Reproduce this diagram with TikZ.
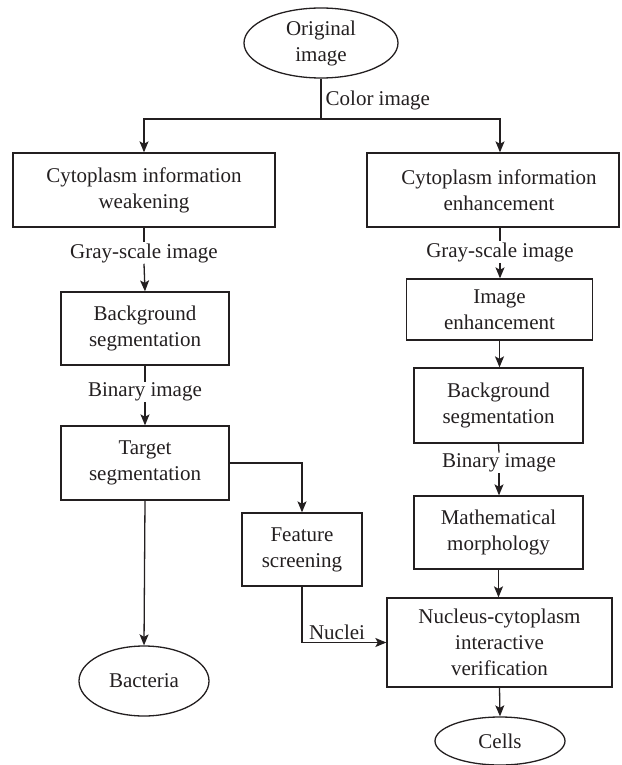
\documentclass[tikz,border=0pt]{standalone}
\usepackage{fontspec}
\setmainfont{Liberation Serif}
\usetikzlibrary{shapes.geometric,arrows.meta}
\definecolor{ink}{HTML}{231F20}
\begin{document}
\begin{tikzpicture}[x=1pt,y=-1pt,
  every node/.style={font=\rmfamily\fontsize{21}{26}\selectfont, text=ink},
  box/.style={draw=ink, line width=1.3pt, rectangle, align=center, inner sep=0pt},
  oval/.style={draw=ink, line width=1.3pt, ellipse, align=center, inner sep=0pt},
  lab/.style={inner sep=1pt, align=center},
  conn/.style={draw=ink, line width=1.3pt},
  arr/.style={conn, -{Stealth[length=11pt,width=9pt,inset=2.5pt]}}]
\useasboundingbox (0,0) rectangle (621,765);
% nodes
\node[oval, minimum width=154pt, minimum height=70pt] (orig) at (321,43) {Original\\image};
\node[box, minimum width=262pt, minimum height=74pt] (cw) at (144,190) {Cytoplasm information\\weakening};
\node[box, minimum width=252pt, minimum height=74pt] (ce) at (493,190) {\hspace*{12pt}Cytoplasm information\\\hspace*{12pt}enhancement};
\node[lab] (gs1) at (144,253) {Gray-scale image};
\node[lab] (gs2) at (500,252) {Gray-scale image};
\node[box, minimum width=168pt, minimum height=73pt] (bs1) at (145,328.5) {Background\\segmentation};
\node[lab] (bi1) at (145,392) {Binary image};
\node[box, minimum width=168pt, minimum height=74pt] (ts) at (145,463) {Target\\segmentation};
\node[box, minimum width=120pt, minimum height=73pt] (fs) at (302,549.5) {Feature\\screening};
\node[oval, minimum width=130pt, minimum height=70pt] (bac) at (144,681) {Bacteria};
\node[box, minimum width=186pt, minimum height=61pt] (ie) at (499.5,309.5) {Image\\enhancement};
\node[box, minimum width=169pt, minimum height=75pt] (bs2) at (498.5,405.5) {Background\\segmentation};
\node[lab] (bi2) at (499,463) {Binary image};
\node[box, minimum width=169pt, minimum height=73pt] (mm) at (498.5,532.5) {Mathematical\\morphology};
\node[box, minimum width=225pt, minimum height=89pt] (nc) at (499.5,642.5) {Nucleus-cytoplasm\\interactive\\verification};
\node[oval, minimum width=130pt, minimum height=48pt] (cells) at (500,741) {Cells};
% connectors
\coordinate (split) at (321,119);
\draw[conn] (orig.south) -- node[lab, anchor=west, pos=0.55, xshift=3pt] (ci) {Color image} (split);
\draw[arr] (split) -| (cw.north);
\draw[arr] (split) -| (gs2 |- ce.north);
\draw[conn] (cw.south) -- (gs1.north);
\draw[arr] (gs1.south) -- (bs1.north);
\draw[conn] (bs1.south) -- (bi1.north);
\draw[arr] (bi1.south) -- (ts.north);
\draw[arr] (ts.east) -| (fs.north);
\draw[arr] (ts.south) -- (bac.north);
\draw[arr] (fs.south) |- node[lab, anchor=south west, pos=0.52, xshift=2pt, yshift=1pt] (nu) {Nuclei} (nc.west);
\draw[conn] (gs2 |- ce.south) -- (gs2.north);
\draw[arr] (gs2.south) -- (gs2 |- ie.north);
\draw[arr] (ie.south) -- (ie.south |- bs2.north);
\draw[conn] (bs2.south) -- (bi2.north);
\draw[arr] (bi2.south) -- (bi2 |- mm.north);
\draw[arr] (mm.south) -- (mm.south |- nc.north);
\draw[arr] (nc.south) -- (cells.north);
\end{tikzpicture}
\end{document}
